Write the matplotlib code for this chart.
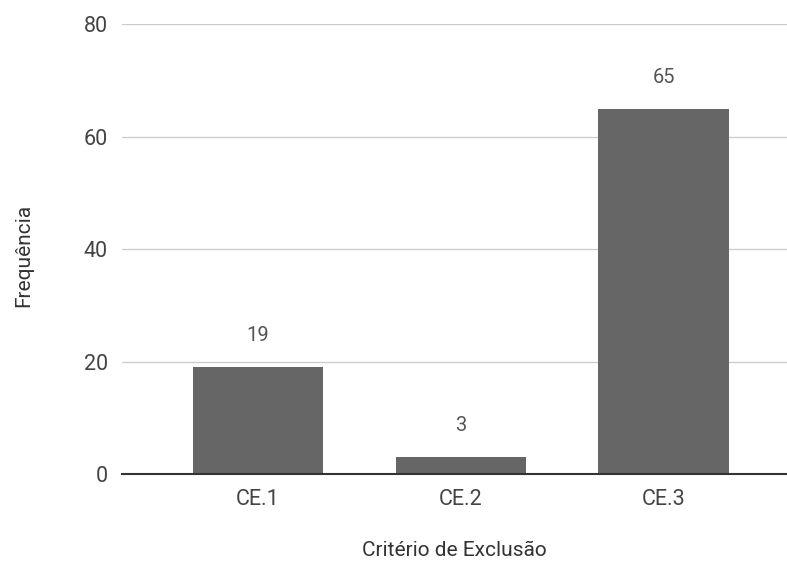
import matplotlib
matplotlib.use("Agg")
import matplotlib.pyplot as plt

categories = ["CE.1", "CE.2", "CE.3"]
values = [19, 3, 65]
yticks = [0, 20, 40, 60, 80]

plt.rcParams['font.family'] = ['Roboto', 'DejaVu Sans']

fig = plt.figure(figsize=(7.87, 5.65), dpi=100)
W, H = 787, 565
left_px, right_px = 122, 787
bottom_px, top_px = 474, 24.3
ax = fig.add_axes([left_px / W, 1 - bottom_px / H, (right_px - left_px) / W, (bottom_px - top_px) / H])

x = list(range(len(categories)))
ax.bar(x, values, width=0.644, color="#666666", zorder=3)

for xi, v in zip(x, values):
    ax.annotate(str(v), (xi, v), xytext=(0, 22.5), textcoords="offset points",
                ha="center", va="center", fontsize=14.5, color="#555555")

ax.set_xlim(-0.671, 2.609)
ax.set_ylim(0, 80)
ax.set_yticks(yticks)
ax.set_xticks(x)
ax.set_xticklabels(categories)
ax.yaxis.grid(True, color="#cccccc", linewidth=1, zorder=0)
ax.set_axisbelow(True)
for s in ["top", "right", "left"]:
    ax.spines[s].set_visible(False)
ax.spines["bottom"].set_color("#333333")
ax.spines["bottom"].set_linewidth(1.5)
ax.spines["bottom"].set_zorder(4)
ax.tick_params(axis="both", length=0, labelsize=15.5, colors="#444444")
ax.tick_params(axis="y", pad=10)
ax.tick_params(axis="x", pad=11)

ax.set_xlabel("Critério de Exclusão", fontsize=15, color="#333333", labelpad=22)
fig.text(24 / W, 1 - 255 / H, "Frequência", rotation=90, fontsize=15, color="#333333",
         ha="center", va="center")

fig.savefig("out.png", dpi=100)
